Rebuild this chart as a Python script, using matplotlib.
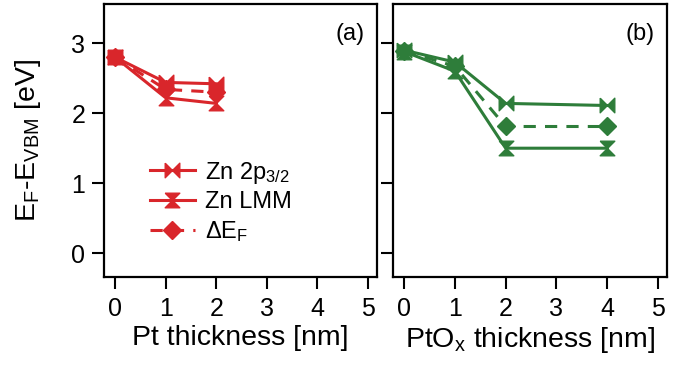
import numpy as np
import matplotlib
matplotlib.use('Agg')
from matplotlib import pyplot as plt

plt.rcParams['font.family'] = ['Liberation Sans', 'DejaVu Sans']
plt.rcParams['mathtext.fontset'] = 'custom'
plt.rcParams['mathtext.rm'] = 'Liberation Sans'
plt.rcParams['mathtext.it'] = 'Liberation Sans'

# data
pt_x = [0, 1, 2]
pt_zn2p = [2.80, 2.44, 2.42]
pt_lmm = [2.80, 2.22, 2.14]
pt_def = [2.80, 2.34, 2.30]

ptox_x = [0, 1, 2, 4]
ptox_zn2p = [2.90, 2.73, 2.14, 2.11]
ptox_lmm = [2.88, 2.60, 1.50, 1.50]
ptox_def = [2.89, 2.67, 1.81, 1.81]

xticks = [0, 1, 2, 3, 4, 5]
yticks = [0, 1, 2, 3]

red = '#d9262b'
green = '#2e7d3a'

# bowtie markers
bow_h = [(-1, 1), (-1, -1), (1, 1), (1, -1), (-1, 1)]
bow_v = [(-1, 1), (1, 1), (-1, -1), (1, -1), (-1, 1)]

fig = plt.figure(figsize=(6.76, 3.68), dpi=100)
ax1 = fig.add_axes([104/676, 1-277/368, 273/676, 273/368])
ax2 = fig.add_axes([393/676, 1-277/368, 274/676, 273/368])

def draw(ax, x, zn2p, lmm, de, c):
    ax.plot(x, zn2p, '-', color=c, lw=2.2, marker=bow_h, ms=10.5, label='Zn 2p$_{3/2}$')
    ax.plot(x, lmm, '-', color=c, lw=2.2, marker=bow_v, ms=10.5, label='Zn LMM')
    ax.plot(x, de, '--', color=c, lw=2.2, marker='D', ms=9.5, dashes=(4, 3), label=r'$\Delta$E$_\mathrm{F}$')
    ax.set_xlim(-0.22, 5.18)
    ax.set_ylim(-0.34, 3.56)
    ax.set_xticks(xticks)
    ax.set_yticks(yticks)
    ax.tick_params(direction='out', length=8.5, width=1.5, labelsize=18)
    ax.tick_params(axis='x', pad=6)
    ax.tick_params(axis='y', pad=5)
    for s in ax.spines.values():
        s.set_linewidth(1.6)

draw(ax1, pt_x, pt_zn2p, pt_lmm, pt_def, red)
draw(ax2, ptox_x, ptox_zn2p, ptox_lmm, ptox_def, green)
ax2.set_yticklabels([])

ax1.set_xlabel('Pt thickness [nm]', fontsize=20.5)
ax2.set_xlabel('PtO$_\\mathrm{x}$ thickness [nm]', fontsize=20.5)
ax1.xaxis.set_label_coords(0.5, -0.175)
ax2.xaxis.set_label_coords(0.5, -0.175)
ax1.set_ylabel('E$_\\mathrm{F}$-E$_\\mathrm{VBM}$ [eV]', fontsize=20.5)
ax1.yaxis.set_label_coords(-0.225, 0.5)

ax1.text(0.955, 0.93, '(a)', transform=ax1.transAxes, ha='right', va='top', fontsize=17)
ax2.text(0.955, 0.93, '(b)', transform=ax2.transAxes, ha='right', va='top', fontsize=17)

ax1.legend(loc='lower left', bbox_to_anchor=(0.168, 0.12), frameon=False, fontsize=17,
           handlelength=1.9, handletextpad=0.42, labelspacing=0.25, borderaxespad=0, borderpad=0)

fig.savefig('out.png', dpi=100)
